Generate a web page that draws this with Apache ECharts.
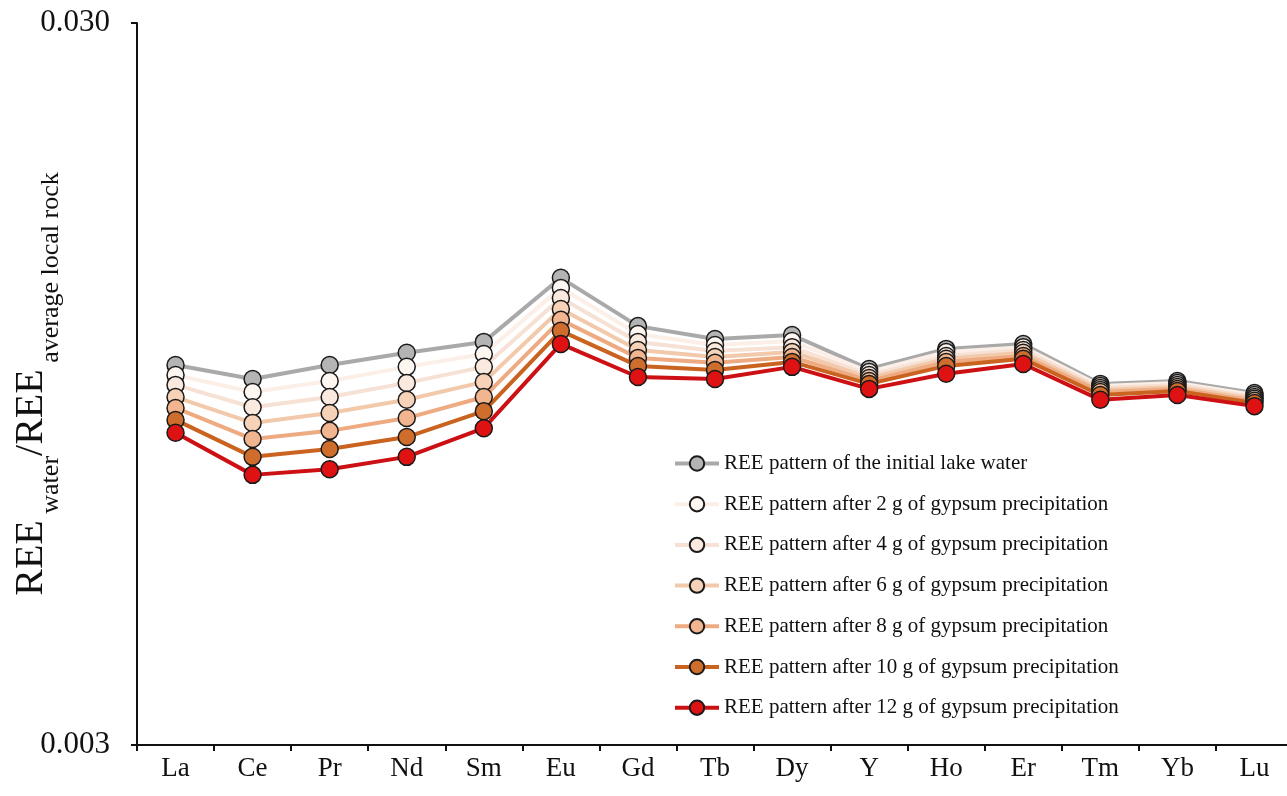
<!DOCTYPE html>
<html>
<head>
<meta charset="utf-8">
<script src="https://cdn.jsdelivr.net/npm/echarts@6/dist/echarts.min.js"></script>
<style>
  html, body { margin: 0; padding: 0; background: #ffffff; }
  #chart { width: 1287px; height: 796px; }
</style>
</head>
<body>
<div id="chart"></div>
<script>
// Rare earth elements on the x axis
const elements = ['La', 'Ce', 'Pr', 'Nd', 'Sm', 'Eu', 'Gd', 'Tb', 'Dy', 'Y', 'Ho', 'Er', 'Tm', 'Yb', 'Lu'];

// Y-axis labelled values (log scale)
const yTickValues = [0.003, 0.03];

// REE_water / REE_average local rock for each stage of gypsum precipitation
const initialWater = [0.01008, 0.00964, 0.01008, 0.01048, 0.01085, 0.01331, 0.01141, 0.01095, 0.01109, 0.00995, 0.01061, 0.01078, 0.00949, 0.00958, 0.00922];
const after2g      = [0.00976, 0.00925, 0.00958, 0.01002, 0.01044, 0.01289, 0.01113, 0.01074, 0.01088, 0.00986, 0.01051, 0.01067, 0.00943, 0.00952, 0.00916];
const after4g      = [0.00946, 0.00881, 0.00910, 0.00952, 0.01002, 0.01248, 0.01085, 0.01054, 0.01067, 0.00976, 0.01037, 0.01057, 0.00937, 0.00946, 0.00910];
const after6g      = [0.00910, 0.00838, 0.00865, 0.00902, 0.00955, 0.01205, 0.01057, 0.01034, 0.01051, 0.00967, 0.01028, 0.01048, 0.00931, 0.00940, 0.00905];
const after8g      = [0.00879, 0.00796, 0.00817, 0.00851, 0.00910, 0.01164, 0.01031, 0.01015, 0.01034, 0.00958, 0.01018, 0.01037, 0.00925, 0.00934, 0.00899];
const after10g     = [0.00846, 0.00752, 0.00771, 0.00801, 0.00870, 0.01124, 0.01005, 0.00992, 0.01018, 0.00949, 0.01005, 0.01028, 0.00916, 0.00928, 0.00893];
const after12g     = [0.00812, 0.00710, 0.00723, 0.00752, 0.00824, 0.01078, 0.00970, 0.00964, 0.01002, 0.00934, 0.00980, 0.01011, 0.00902, 0.00916, 0.00884];

const seriesNames = [
  'REE pattern of the initial lake water',
  'REE pattern after 2 g of gypsum precipitation',
  'REE pattern after 4 g of gypsum precipitation',
  'REE pattern after 6 g of gypsum precipitation',
  'REE pattern after 8 g of gypsum precipitation',
  'REE pattern after 10 g of gypsum precipitation',
  'REE pattern after 12 g of gypsum precipitation'
];
const seriesData = [initialWater, after2g, after4g, after6g, after8g, after10g, after12g];
const lineColors   = ['#a9a9a9', '#fbefe7', '#f6e1d4', '#f2c9ab', '#eeab82', '#c9631f', '#cc1014'];
const markerColors = ['#b4b4b4', '#fdf6f1', '#fae9de', '#f6d2b8', '#f1b58f', '#cf6d2c', '#de1212'];

const serif = '"Liberation Serif", "DejaVu Serif", serif';

const series = seriesData.map((data, i) => ({
  name: seriesNames[i],
  type: 'line',
  data: data,
  symbol: 'circle',
  symbolSize: 17,
  lineStyle: { color: lineColors[i], width: 4 },
  itemStyle: { color: markerColors[i], borderColor: '#1a1a1a', borderWidth: 1.5 },
  emphasis: { disabled: true },
  animation: false
}));

const chart = echarts.init(document.getElementById('chart'), null, { renderer: 'canvas' });
chart.setOption({
  backgroundColor: '#ffffff',
  animation: false,
  grid: { left: 137, top: 23, width: 1156, height: 722, containLabel: false, outerBoundsMode: 'none' },
  legend: {
    orient: 'vertical',
    left: 673,
    top: 453,
    padding: 0,
    itemWidth: 44,
    itemHeight: 18,
    itemGap: 19.7,
    lineStyle: { width: 4 },
    textStyle: { fontFamily: serif, fontSize: 21, color: '#111111', lineHeight: 18 },
    data: seriesNames
  },
  xAxis: {
    type: 'category',
    data: elements,
    boundaryGap: true,
    axisLine: { lineStyle: { color: '#111111', width: 2 } },
    axisTick: { show: true, length: 6, lineStyle: { color: '#111111', width: 2 } },
    axisLabel: { fontFamily: serif, fontSize: 27, color: '#111111', margin: 10 },
    splitLine: { show: false }
  },
  yAxis: {
    type: 'log',
    logBase: 10,
    min: 0.003,
    max: 0.03,
    axisLine: { show: true, lineStyle: { color: '#111111', width: 2 } },
    axisTick: { show: true, length: 6, customValues: yTickValues, lineStyle: { color: '#111111', width: 2 } },
    axisLabel: {
      fontFamily: serif, fontSize: 31, color: '#111111', margin: 27,
      customValues: yTickValues,
      formatter: v => v.toFixed(3)
    },
    splitLine: { show: false },
    minorTick: { show: false },
    name: '{m|REE}{s| water}{m|/REE}{s| average local rock}',
    nameLocation: 'middle',
    nameRotate: 90,
    nameGap: 84,
    nameMoveOverlap: false,
    nameTextStyle: {
      fontFamily: serif,
      color: '#111111',
      rich: {
        m: { fontFamily: serif, fontSize: 40, lineHeight: 44, color: '#111111' },
        s: { fontFamily: serif, fontSize: 26, lineHeight: 28, color: '#111111', padding: [40, 0, 0, 0] }
      }
    }
  },
  series: series
});
</script>
</body>
</html>
